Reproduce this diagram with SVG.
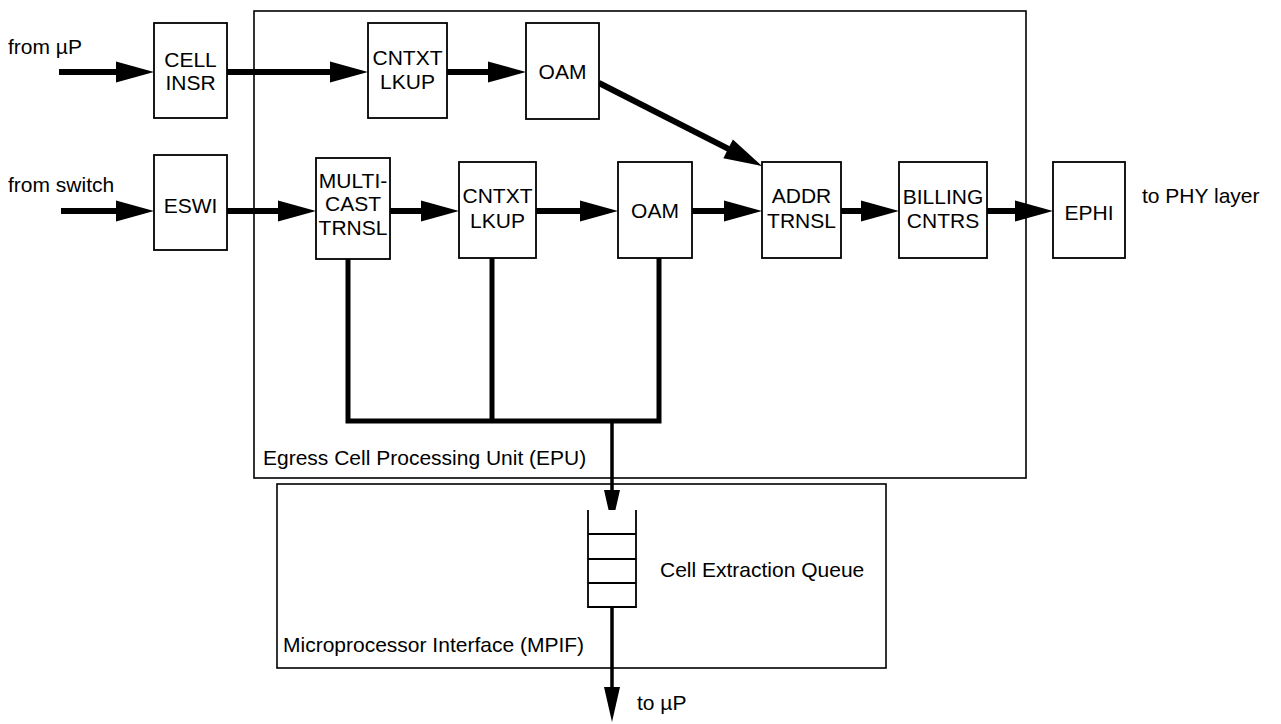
<svg xmlns="http://www.w3.org/2000/svg" width="1281" height="724" viewBox="0 0 1281 724">
<style>
  text { font-family: "Liberation Sans", Arial, sans-serif; font-size: 21px; fill: #000; }
  .box { fill: #fff; stroke: #000; stroke-width: 1.8; }
  .unit { fill: none; stroke: #000; stroke-width: 1.6; }
  .lbl { text-anchor: middle; }
  .flow { fill: none; stroke: #000; stroke-width: 6; }
  .bus { fill: none; stroke: #000; stroke-width: 5; }
  .qline { fill: none; stroke: #000; stroke-width: 3.5; }
  .q { fill: #fff; stroke: #000; stroke-width: 1.8; }
</style>
<defs>
  <marker id="ah" markerUnits="userSpaceOnUse" markerWidth="38" markerHeight="21" refX="2" refY="10.5" orient="auto" overflow="visible">
    <path d="M0,0 L38,10.5 L0,21 Z" fill="#000"/>
  </marker>
  <marker id="ahs" markerUnits="userSpaceOnUse" markerWidth="35" markerHeight="16" refX="2" refY="8" orient="auto" overflow="visible">
    <path d="M0,0 L35,8 L0,16 Z" fill="#000"/>
  </marker>
</defs>
<rect width="1281" height="724" fill="#fff"/>

<g id="epu">
  <rect class="unit" x="254" y="11" width="772" height="467"/>
  <text x="263" y="465">Egress Cell Processing Unit (EPU)</text>
</g>
<g id="mpif">
  <rect class="unit" x="277" y="484" width="609" height="184"/>
  <text x="283" y="652">Microprocessor Interface (MPIF)</text>
</g>

<g id="connectors">
  <path class="flow" d="M59,72 H118" marker-end="url(#ah)"/>
  <path class="flow" d="M227,72 H332" marker-end="url(#ah)"/>
  <path class="flow" d="M447,72 H490" marker-end="url(#ah)"/>
  <path class="flow" d="M599,83 L729.9,149.7" marker-end="url(#ah)"/>
  <path class="flow" d="M61,211 H118" marker-end="url(#ah)"/>
  <path class="flow" d="M227,211 H280" marker-end="url(#ah)"/>
  <path class="flow" d="M390,211 H423" marker-end="url(#ah)"/>
  <path class="flow" d="M536,211 H582" marker-end="url(#ah)"/>
  <path class="flow" d="M692,211 H726" marker-end="url(#ah)"/>
  <path class="flow" d="M841,211 H863" marker-end="url(#ah)"/>
  <path class="flow" d="M987,211 H1017" marker-end="url(#ah)"/>
  <path class="bus" d="M348,259 V421 H659 V258 M492,258 V421"/>
  <path class="qline" d="M612,421 V492" marker-end="url(#ahs)"/>
  <path class="qline" d="M612,607 V689" marker-end="url(#ahs)"/>
</g>

<g id="cell-insr">
  <rect class="box" x="154" y="23" width="73" height="95"/>
  <text class="lbl" x="190.5" y="67">CELL</text>
  <text class="lbl" x="190.5" y="90">INSR</text>
</g>
<g id="cntxt-lkup-1">
  <rect class="box" x="368" y="23" width="79" height="95"/>
  <text class="lbl" x="407.5" y="65">CNTXT</text>
  <text class="lbl" x="407.5" y="89">LKUP</text>
</g>
<g id="oam-1">
  <rect class="box" x="526" y="23" width="73" height="96"/>
  <text class="lbl" x="562.5" y="79">OAM</text>
</g>
<g id="eswi">
  <rect class="box" x="154" y="155" width="73" height="95"/>
  <text class="lbl" x="190.5" y="213">ESWI</text>
</g>
<g id="multicast-trnsl">
  <rect class="box" x="316" y="158" width="74" height="101"/>
  <text class="lbl" x="353" y="188">MULTI-</text>
  <text class="lbl" x="353" y="211">CAST</text>
  <text class="lbl" x="353" y="235">TRNSL</text>
</g>
<g id="cntxt-lkup-2">
  <rect class="box" x="459" y="162" width="77" height="96"/>
  <text class="lbl" x="497.5" y="203">CNTXT</text>
  <text class="lbl" x="497.5" y="228">LKUP</text>
</g>
<g id="oam-2">
  <rect class="box" x="618" y="162" width="74" height="96"/>
  <text class="lbl" x="655" y="218">OAM</text>
</g>
<g id="addr-trnsl">
  <rect class="box" x="762" y="162" width="79" height="96"/>
  <text class="lbl" x="801.5" y="203">ADDR</text>
  <text class="lbl" x="801.5" y="228">TRNSL</text>
</g>
<g id="billing-cntrs">
  <rect class="box" x="899" y="162" width="88" height="96"/>
  <text class="lbl" x="943" y="204">BILLING</text>
  <text class="lbl" x="943" y="228">CNTRS</text>
</g>
<g id="ephi">
  <rect class="box" x="1053" y="162" width="72" height="96"/>
  <text class="lbl" x="1089" y="220">EPHI</text>
</g>
<g id="queue">
  <path class="q" d="M588,510 V607 H636 V510 M588,534 H636 M588,559 H636 M588,583 H636"/>
  <text x="660" y="577">Cell Extraction Queue</text>
</g>

<g id="labels">
  <text x="8" y="54">from µP</text>
  <text x="8" y="192">from switch</text>
  <text x="1142" y="203">to PHY layer</text>
  <text x="637" y="710">to µP</text>
</g>
</svg>
